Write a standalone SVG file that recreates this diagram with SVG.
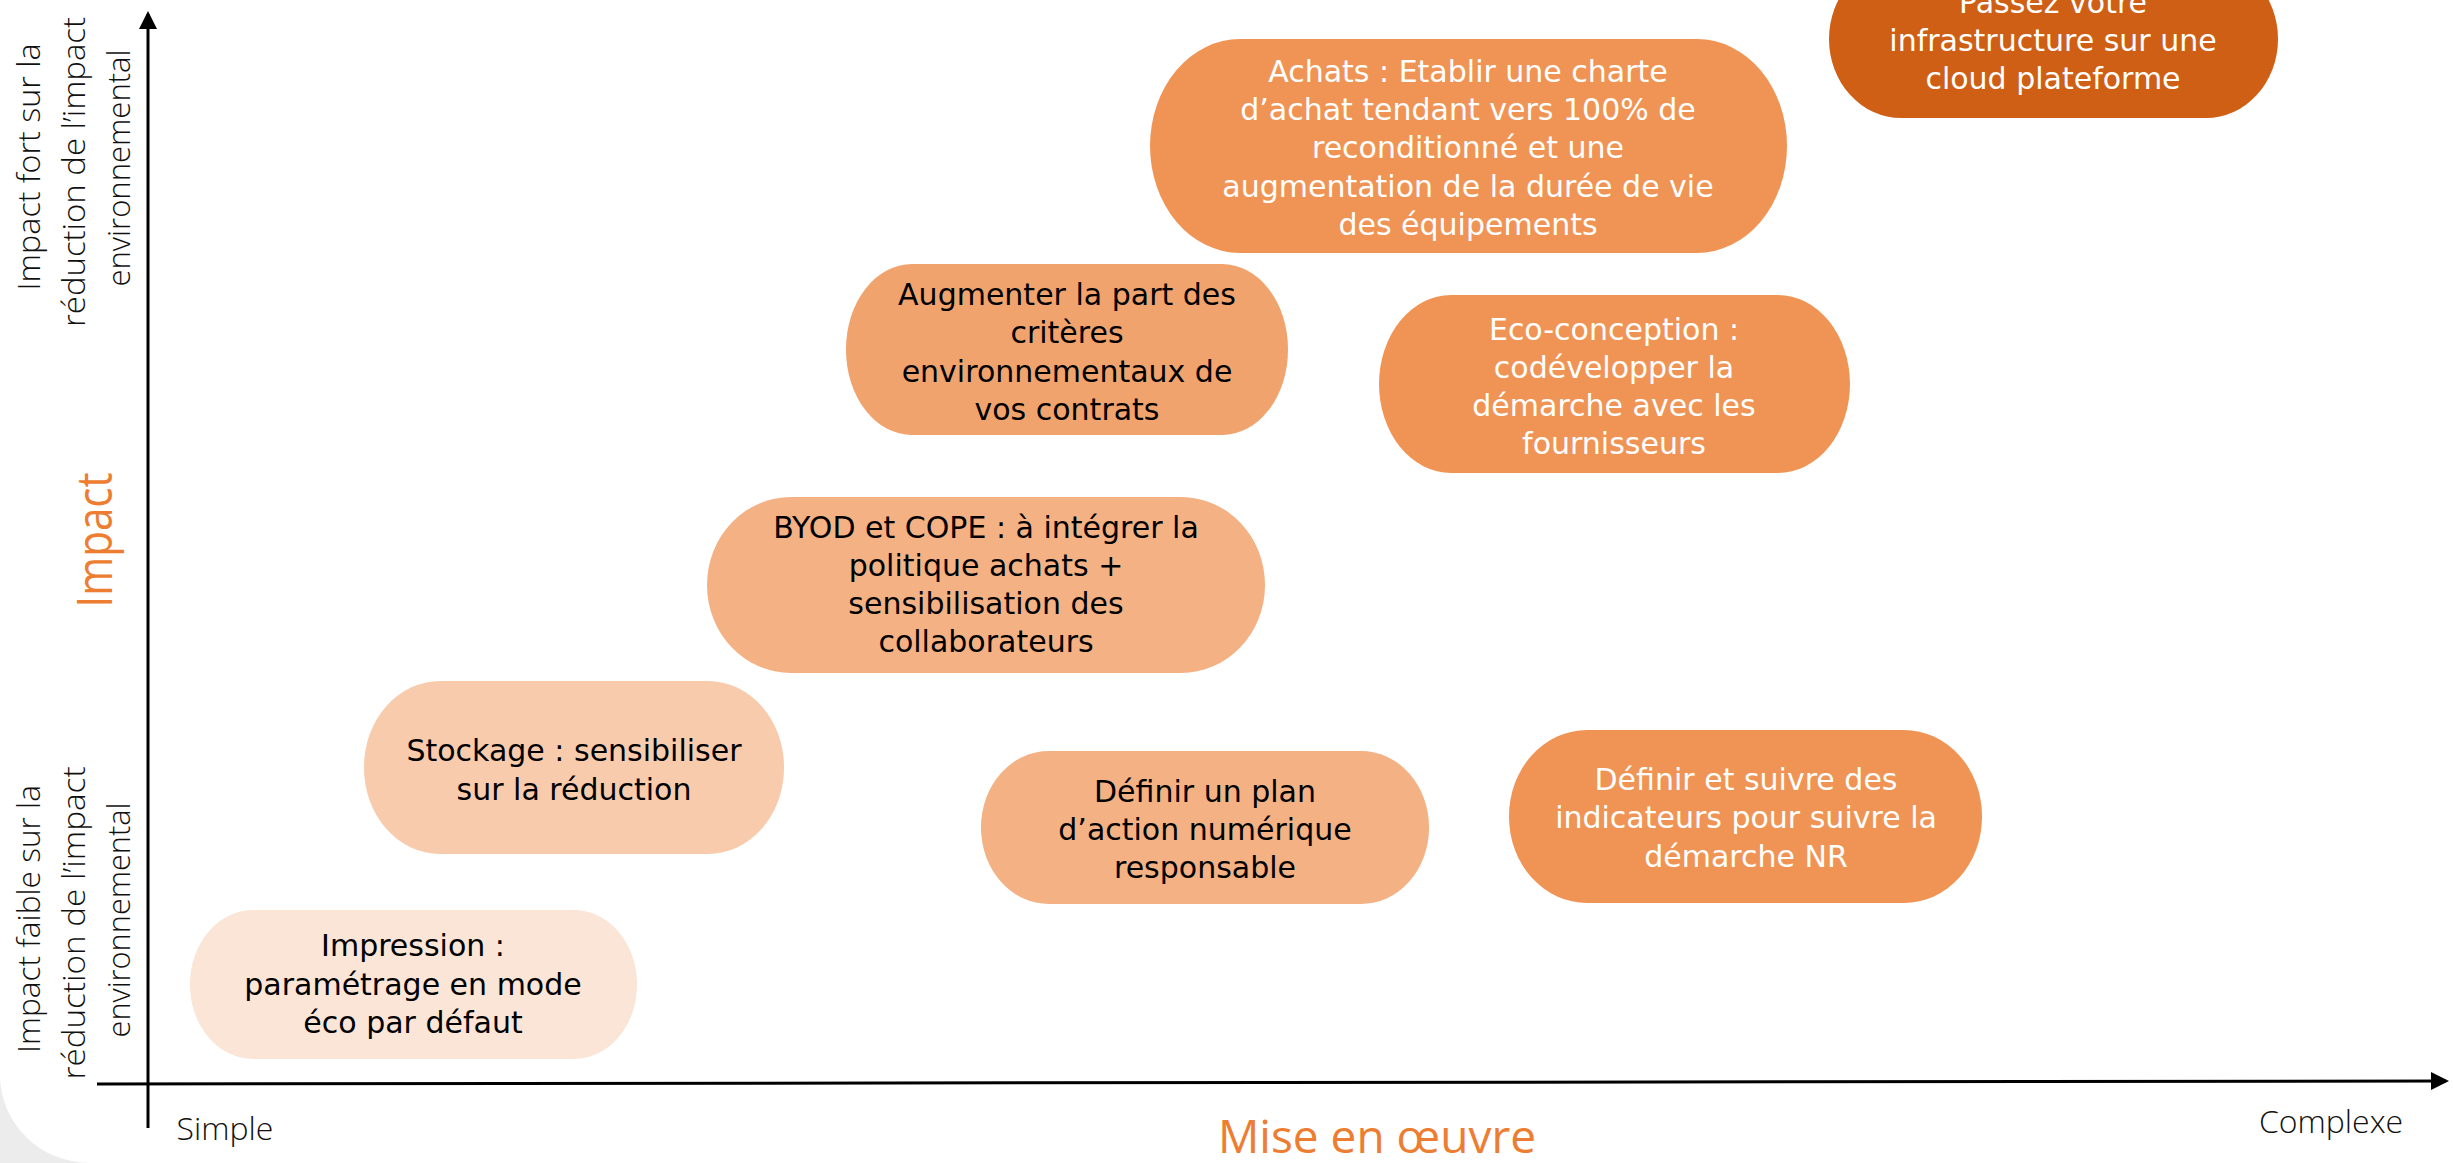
<svg xmlns="http://www.w3.org/2000/svg" width="2453" height="1163" viewBox="0 0 2453 1163">
<style>
.node text{font-family:"DejaVu Sans","Liberation Sans",sans-serif;font-size:30px;text-anchor:middle}
.dark text{fill:#ffffff}
.light text{fill:#000000}
.lab{font-family:"Open Sans","Liberation Sans",sans-serif;font-weight:300;fill:#111111;text-anchor:middle}
.axis{stroke:#000;stroke-width:3;fill:none}
</style>
<defs>
<marker id="arr" markerWidth="6" markerHeight="6" refX="5" refY="3" orient="auto" markerUnits="strokeWidth">
<path d="M0,0 L6,3 L0,6 Z" fill="#000"/>
</marker>
</defs>
<rect width="2453" height="1163" fill="#ffffff"/>
<path d="M0,1075 A90 88 0 0 0 90,1163 L0,1163 Z" fill="#ECECEC"/>

<g id="connectors">
<line class="axis" x1="148" y1="1128" x2="148" y2="14" marker-end="url(#arr)"/>
<line class="axis" x1="97" y1="1084" x2="2446" y2="1081" marker-end="url(#arr)"/>
</g>

<g id="axis-labels">
<text class="lab" font-size="32" textLength="247" lengthAdjust="spacingAndGlyphs" transform="translate(40,167) rotate(-90)">Impact fort sur la</text>
<text class="lab" font-size="32" textLength="310" lengthAdjust="spacingAndGlyphs" transform="translate(85,172) rotate(-90)">réduction de l’impact</text>
<text class="lab" font-size="32" textLength="237" lengthAdjust="spacingAndGlyphs" transform="translate(130,168) rotate(-90)">environnemental</text>
<text font-family="Open Sans, Liberation Sans, sans-serif" font-size="50" fill="#ED7D31" text-anchor="middle" textLength="135" lengthAdjust="spacingAndGlyphs" transform="translate(112,540) rotate(-90)">Impact</text>
<text class="lab" font-size="32" textLength="268" lengthAdjust="spacingAndGlyphs" transform="translate(40,919) rotate(-90)">Impact faible sur la</text>
<text class="lab" font-size="32" textLength="313" lengthAdjust="spacingAndGlyphs" transform="translate(85,923) rotate(-90)">réduction de l’impact</text>
<text class="lab" font-size="32" textLength="235" lengthAdjust="spacingAndGlyphs" transform="translate(130,920) rotate(-90)">environnemental</text>
<text class="lab" font-size="32" x="225" y="1140">Simple</text>
<text class="lab" font-size="32" x="2331" y="1133">Complexe</text>
<text font-family="Open Sans, Liberation Sans, sans-serif" font-size="46" fill="#ED7D31" text-anchor="middle" x="1377" y="1153">Mise en œuvre</text>
</g>

<g id="node-cloud" class="node dark">
<rect x="1829" y="-40" width="449" height="158" rx="72" ry="79" fill="#CF5F15"/>
<text x="2053" y="13">Passez votre</text>
<text x="2053" y="51">infrastructure sur une</text>
<text x="2053" y="89">cloud plateforme</text>
</g>

<g id="node-achats" class="node dark">
<rect x="1150" y="39" width="637" height="214" rx="90" ry="107" fill="#F09455"/>
<text x="1468" y="82">Achats : Etablir une charte</text>
<text x="1468" y="120">d’achat tendant vers 100% de</text>
<text x="1468" y="158">reconditionné et une</text>
<text x="1468" y="197">augmentation de la durée de vie</text>
<text x="1468" y="235">des équipements</text>
</g>

<g id="node-criteres" class="node light">
<rect x="846" y="264" width="442" height="171" rx="66" ry="85" fill="#F1A36E"/>
<text x="1067" y="305">Augmenter la part des</text>
<text x="1067" y="343">critères</text>
<text x="1067" y="382">environnementaux de</text>
<text x="1067" y="420">vos contrats</text>
</g>

<g id="node-eco" class="node dark">
<rect x="1379" y="295" width="471" height="178" rx="72" ry="89" fill="#F09455"/>
<text x="1614" y="340">Eco-conception :</text>
<text x="1614" y="378">codévelopper la</text>
<text x="1614" y="416">démarche avec les</text>
<text x="1614" y="454">fournisseurs</text>
</g>

<g id="node-byod" class="node light">
<rect x="707" y="497" width="558" height="176" rx="84" ry="88" fill="#F4B183"/>
<text x="986" y="538">BYOD et COPE : à intégrer la</text>
<text x="986" y="576">politique achats +</text>
<text x="986" y="614">sensibilisation des</text>
<text x="986" y="652">collaborateurs</text>
</g>

<g id="node-stockage" class="node light">
<rect x="364" y="681" width="420" height="173" rx="76" ry="86" fill="#F8CBAD"/>
<text x="574" y="761">Stockage : sensibiliser</text>
<text x="574" y="800">sur la réduction</text>
</g>

<g id="node-plan" class="node light">
<rect x="981" y="751" width="448" height="153" rx="68" ry="76" fill="#F4B183"/>
<text x="1205" y="802">Définir un plan</text>
<text x="1205" y="840">d’action numérique</text>
<text x="1205" y="878">responsable</text>
</g>

<g id="node-impression" class="node light">
<rect x="190" y="910" width="447" height="149" rx="63" ry="74" fill="#FBE5D6"/>
<text x="413" y="956">Impression :</text>
<text x="413" y="995">paramétrage en mode</text>
<text x="413" y="1033">éco par défaut</text>
</g>

<g id="node-indicateurs" class="node dark">
<rect x="1509" y="730" width="473" height="173" rx="78" ry="86" fill="#F09455"/>
<text x="1746" y="790">Définir et suivre des</text>
<text x="1746" y="828">indicateurs pour suivre la</text>
<text x="1746" y="867">démarche NR</text>
</g>
</svg>
